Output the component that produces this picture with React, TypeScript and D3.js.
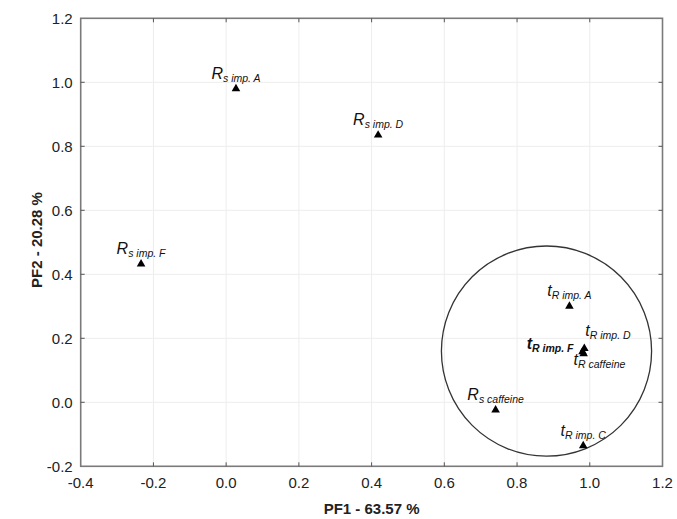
import React from 'react';
import * as d3 from 'd3';

// PCA scores
const sampleNames = ['Rs imp. A', 'Rs imp. D', 'Rs imp. F', 'tR imp. A', 'tR imp. D', 'tR imp. F', 'tR caffeine', 'Rs caffeine', 'tR imp. C'];
const pf1Values = [0.027, 0.418, -0.234, 0.944, 0.985, 0.98, 0.983, 0.741, 0.982];
const pf2Values = [0.98, 0.835, 0.432, 0.30, 0.168, 0.158, 0.152, -0.024, -0.136];
const labelMain = ['R', 'R', 'R', 't', 't', 't', 't', 'R', 't'];
const labelSub = ['s imp. A', 's imp. D', 's imp. F', 'R imp. A', 'R imp. D', 'R imp. F', 'R caffeine', 's caffeine', 'R imp. C'];

const xTicks = [-0.4, -0.2, 0.0, 0.2, 0.4, 0.6, 0.8, 1.0, 1.2];
const yTicks = [-0.2, 0.0, 0.2, 0.4, 0.6, 0.8, 1.0, 1.2];

// grouping circle (centre in PF units, radius in PF1 units)
const groupCircle = { pf1: 0.881, pf2: 0.16, r: 0.289 };

// label placement around the marker (pixels)
const labelPlace: Record<string, { anchor: string; dx: number; dy: number; bold?: boolean }> = {
  'tR imp. D': { anchor: 'start', dx: 1, dy: -13 },
  'tR imp. F': { anchor: 'end', dx: -9, dy: -3, bold: true },
  'tR caffeine': { anchor: 'start', dx: -10, dy: 11 },
};

const width = 677;
const height = 519;
const margin = { top: 18.3, right: 14.5, bottom: 52.7, left: 80.7 };
const font = "'Liberation Sans', Arial, sans-serif";

export default function App() {
  const x = d3.scaleLinear().domain([-0.4, 1.2]).range([margin.left, width - margin.right]);
  const y = d3.scaleLinear().domain([-0.2, 1.2]).range([height - margin.bottom, margin.top]);
  const tri = d3.symbol().type(d3.symbolTriangle).size(32)();
  const fmt = (v: number) => d3.format('.1f')(v).replace('\u2212', '-');

  const x0 = x.range()[0], x1 = x.range()[1];
  const y0 = y.range()[0], y1 = y.range()[1];

  return (
    <svg width={width} height={height} style={{ position: 'absolute', left: 0, top: 0, background: 'white' }} fontFamily={font}>
      {/* grid */}
      {xTicks.slice(1, -1).map(t => (
        <line key={'gx' + t} x1={x(t)} x2={x(t)} y1={y1} y2={y0} stroke="#ededed" strokeWidth={1} />
      ))}
      {yTicks.slice(1, -1).map(t => (
        <line key={'gy' + t} x1={x0} x2={x1} y1={y(t)} y2={y(t)} stroke="#ededed" strokeWidth={1} />
      ))}

      {/* frame */}
      <rect x={x0} y={y1} width={x1 - x0} height={y0 - y1} fill="none" stroke="#7a7a7a" strokeWidth={1.6} />

      {/* inward ticks */}
      {xTicks.slice(1, -1).map(t => (
        <g key={'tx' + t} stroke="#555" strokeWidth={1}>
          <line x1={x(t)} x2={x(t)} y1={y0} y2={y0 - 4} />
          <line x1={x(t)} x2={x(t)} y1={y1} y2={y1 + 4} />
        </g>
      ))}
      {yTicks.slice(1, -1).map(t => (
        <g key={'ty' + t} stroke="#555" strokeWidth={1}>
          <line x1={x0} x2={x0 + 4} y1={y(t)} y2={y(t)} />
          <line x1={x1} x2={x1 - 4} y1={y(t)} y2={y(t)} />
        </g>
      ))}

      {/* tick labels */}
      {xTicks.map(t => (
        <text key={'lx' + t} x={x(t)} y={y0 + 22} textAnchor="middle" fontSize={15} fill="#222">
          {fmt(t)}
        </text>
      ))}
      {yTicks.map(t => (
        <text key={'ly' + t} x={x0 - 8} y={y(t)} dy="0.35em" textAnchor="end" fontSize={15} fill="#222">
          {fmt(t)}
        </text>
      ))}

      {/* axis titles */}
      <text x={(x0 + x1) / 2} y={514} textAnchor="middle" fontSize={15} fontWeight="bold" fill="#222">
        PF1 - 63.57 %
      </text>
      <text transform={`translate(42,240) rotate(-90)`} textAnchor="middle" fontSize={15} fontWeight="bold" fill="#222">
        PF2 - 20.28 %
      </text>

      {/* grouping circle */}
      <circle
        cx={x(groupCircle.pf1)}
        cy={y(groupCircle.pf2)}
        r={x(groupCircle.r) - x(0)}
        fill="none"
        stroke="#333"
        strokeWidth={1.3}
      />

      {/* points */}
      {sampleNames.map((n, i) => (
        <path key={'p' + n} d={tri ?? ''} transform={`translate(${x(pf1Values[i])},${y(pf2Values[i])})`} fill="#000" />
      ))}

      {/* labels */}
      {sampleNames.map((n, i) => {
        const p = labelPlace[n] ?? { anchor: 'middle', dx: 0, dy: -10 };
        return (
          <text
            key={'t' + n}
            x={x(pf1Values[i]) + p.dx}
            y={y(pf2Values[i]) + p.dy}
            textAnchor={p.anchor}
            fontStyle="italic"
            fontWeight={p.bold ? 'bold' : 'normal'}
            fill="#111"
          >
            <tspan fontSize={16}>{labelMain[i]}</tspan>
            <tspan fontSize={10.5} dy={3}>{labelSub[i]}</tspan>
          </text>
        );
      })}
    </svg>
  );
}
